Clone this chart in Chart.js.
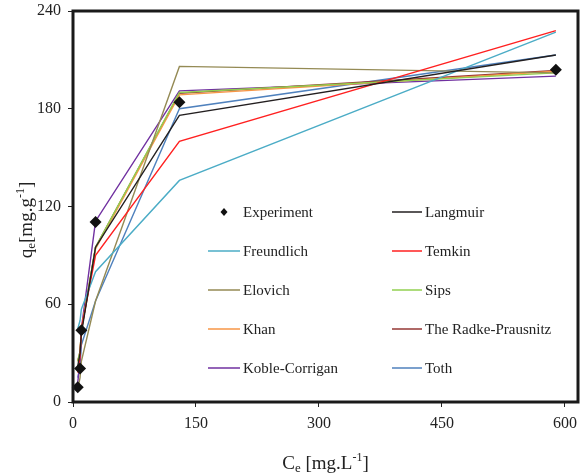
<!DOCTYPE html>
<html lang="en">
<head>
<meta charset="UTF-8">
<title>Adsorption isotherms</title>
<script src="https://cdn.jsdelivr.net/npm/chart.js"></script>
<style>
  html, body { margin: 0; padding: 0; background: #fff; }
  #wrap { width: 584px; height: 475px; }
</style>
</head>
<body>
<div id="wrap"><canvas id="isoChart"></canvas></div>

<script>
    // equilibrium concentrations (mg/L) and uptake (mg/g)
    const ceValues = [5.8, 8.6, 10.2, 27.5, 129.8, 589];
    const experiment = [9, 20.5, 44, 110.5, 184, 204];

    // model fits at the same Ce
    const langmuir = [22, 30, 42, 95, 176, 213];
    const freundlich = [45, 50, 57, 80, 136, 227];
    const temkin = [18, 28, 45, 90, 160, 228];
    const elovich = [8, 15, 25, 62, 206, 202];
    const sips = [25, 31, 44, 95, 190, 202];
    const khan = [25, 30, 44, 94, 188.5, 203];
    const radkePrausnitz = [25, 31, 44, 95, 189.5, 203.5];
    const kobleCorrigan = [12, 25, 45, 111, 191, 200];
    const toth = [15, 22, 35, 62, 180, 213];

    const seriesNames = ['Experiment', 'Langmuir', 'Freundlich', 'Temkin', 'Elovich', 'Sips',
        'Khan', 'The Radke-Prausnitz', 'Koble-Corrigan', 'Toth'];
    const seriesColors = ['#000000', '#231f20', '#4bacc6', '#ff2020', '#948a54', '#92d050',
        '#f79646', '#953735', '#7030a0', '#4f81bd'];

    const xTicks = [0, 150, 300, 450, 600];
    const yTicks = [0, 60, 120, 180, 240];

    const allSeries = [experiment, langmuir, freundlich, temkin, elovich, sips,
        khan, radkePrausnitz, kobleCorrigan, toth];

    const SERIF = '"Liberation Serif", "DejaVu Serif", serif';

    function toPoints(ys) {
        return ceValues.map((x, i) => ({x: x, y: ys[i]}));
    }

    const datasets = allSeries.map((ys, i) => {
        if (i === 0) {
            return {
                label: seriesNames[0],
                data: toPoints(ys),
                showLine: false,
                pointStyle: 'rectRot',
                pointRadius: 6,
                backgroundColor: '#111',
                borderColor: '#111',
                borderWidth: 0,
                clip: false
            };
        }
        return {
            label: seriesNames[i],
            data: toPoints(ys),
            showLine: true,
            borderColor: seriesColors[i],
            backgroundColor: seriesColors[i],
            borderWidth: 1.4,
            pointRadius: 0,
            tension: 0,
            clip: false
        };
    });

    // legend boxed inside the plot, two columns
    const boxLegend = {
        id: 'boxLegend',
        afterDraw(chart) {
            const ctx = chart.ctx, area = chart.chartArea;
            const colX = [area.left + 135, area.left + 319];
            const colLen = [32, 30];
            ctx.save();
            ctx.font = '15px ' + SERIF;
            ctx.fillStyle = '#222';
            ctx.textBaseline = 'alphabetic';
            seriesNames.forEach((name, i) => {
                const col = i % 2, row = Math.floor(i / 2);
                const y = area.top + 201 + row * 39;
                const x0 = colX[col], x1 = x0 + colLen[col];
                if (i === 0) {
                    ctx.beginPath();
                    ctx.moveTo(x0 + 16, y - 4);
                    ctx.lineTo(x0 + 19.5, y);
                    ctx.lineTo(x0 + 16, y + 4);
                    ctx.lineTo(x0 + 12.5, y);
                    ctx.closePath();
                    ctx.fillStyle = '#111';
                    ctx.fill();
                    ctx.fillStyle = '#222';
                } else {
                    ctx.beginPath();
                    ctx.moveTo(x0, y);
                    ctx.lineTo(x1, y);
                    ctx.strokeStyle = seriesColors[i];
                    ctx.lineWidth = 1.5;
                    ctx.stroke();
                }
                ctx.fillText(name, x1 + 3, y + 5);
            });
            ctx.restore();
        }
    };

    // heavy frame around the plot and axis titles with sub/superscripts
    const frameAndTitles = {
        id: 'frameAndTitles',
        afterDraw(chart) {
            const ctx = chart.ctx, area = chart.chartArea;
            ctx.save();
            ctx.strokeStyle = '#1a1a1a';
            ctx.lineWidth = 3;
            ctx.strokeRect(area.left, area.top, area.right - area.left, area.bottom - area.top);

            ctx.fillStyle = '#222';
            ctx.textBaseline = 'alphabetic';

            function richText(parts, x, y) {
                // measure first so the whole string can be centred
                let w = 0;
                parts.forEach(p => {
                    ctx.font = p.size + 'px ' + SERIF;
                    w += ctx.measureText(p.t).width;
                });
                let cx = x - w / 2;
                parts.forEach(p => {
                    ctx.font = p.size + 'px ' + SERIF;
                    ctx.fillText(p.t, cx, y + (p.dy || 0));
                    cx += ctx.measureText(p.t).width;
                });
            }

            const midX = (area.left + area.right) / 2;
            richText([
                {t: 'C', size: 19},
                {t: 'e', size: 13, dy: 3},
                {t: ' [mg.L', size: 19},
                {t: '-1', size: 12, dy: -8},
                {t: ']', size: 19}
            ], midX, 469);

            ctx.translate(32, 220);
            ctx.rotate(-Math.PI / 2);
            richText([
                {t: 'q', size: 19},
                {t: 'e', size: 13, dy: 3},
                {t: '[mg.g', size: 19},
                {t: '-1', size: 12, dy: -8},
                {t: ']', size: 19}
            ], 0, 0);
            ctx.restore();
        }
    };

    new Chart(document.getElementById('isoChart'), {
        type: 'scatter',
        data: {datasets: datasets},
        options: {
            responsive: true,
            maintainAspectRatio: false,
            animation: false,
            layout: {padding: {left: 0, top: 11, right: 5, bottom: 0}},
            plugins: {
                legend: {display: false},
                tooltip: {enabled: false}
            },
            scales: {
                x: {
                    type: 'linear',
                    min: 0,
                    max: 616,
                    afterBuildTicks: scale => { scale.ticks = xTicks.map(v => ({value: v})); },
                    afterFit: scale => {
                        scale.height = 73;
                        scale.paddingLeft = 0;
                        scale.paddingRight = 0;
                    },
                    grid: {display: true, drawOnChartArea: false, drawTicks: true, tickLength: 5, color: '#222'},
                    border: {display: false},
                    ticks: {color: '#222', padding: 7, maxRotation: 0, font: {family: SERIF, size: 16}}
                },
                y: {
                    type: 'linear',
                    min: 0,
                    max: 240,
                    afterBuildTicks: scale => { scale.ticks = yTicks.map(v => ({value: v})); },
                    afterFit: scale => {
                        scale.width = 73;
                        scale.paddingTop = 0;
                        scale.paddingBottom = 0;
                    },
                    grid: {display: true, drawOnChartArea: false, drawTicks: true, tickLength: 5, color: '#222'},
                    border: {display: false},
                    ticks: {color: '#222', padding: 7, font: {family: SERIF, size: 16}}
                }
            }
        },
        plugins: [boxLegend, frameAndTitles]
    });
</script>
</body>
</html>
